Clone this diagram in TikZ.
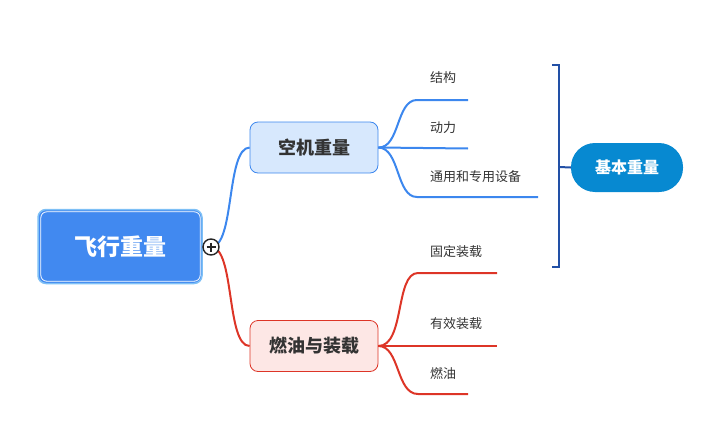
\documentclass[tikz,border=0pt]{standalone}
\usepackage{fontspec}
\usetikzlibrary{calc}
\newfontfamily\cjk{Noto Sans CJK SC}
\definecolor{rootfill}{HTML}{4189F0}
\definecolor{rootring}{HTML}{7EC0F6}
\definecolor{bl}{HTML}{3C87EE}
\definecolor{blfill}{HTML}{D7E8FD}
\definecolor{rd}{HTML}{DD3527}
\definecolor{rdfill}{HTML}{FDE7E5}
\definecolor{brk}{HTML}{2250A6}
\definecolor{pill}{HTML}{0789D1}
\definecolor{txt}{HTML}{333333}
\tikzset{
  rootbox/.style={draw=rootring, line width=1.5pt, fill=rootfill, rounded corners=8pt, minimum width=164pt, minimum height=74pt, inner sep=0pt, text=white, font=\cjk\bfseries\fontsize{23}{23}\selectfont},
  subbox/.style={rounded corners=8pt, minimum width=128pt, minimum height=51pt, inner sep=0pt, text=txt, font=\cjk\bfseries\fontsize{18}{18}\selectfont, line width=0.8pt},
  leaf/.style={anchor=west, inner sep=0pt, text=txt, font=\cjk\fontsize{13}{13}\selectfont},
  bbr/.style={draw=bl, line width=2pt},
  rbr/.style={draw=rd, line width=2pt},
}
\begin{document}
\begin{tikzpicture}[x=1pt,y=-1pt]
\useasboundingbox (0,0) rectangle (717,439);
% root
\node[rootbox] (root) at (120,246.5) {飞行重量};
\draw[white, line width=0.8pt, rounded corners=6pt] (40.8,211.8) rectangle (200.2,281.2);
% children
\node[subbox, draw=bl, fill=blfill] (kj) at (314,147.5) {空机重量};
\node[subbox, draw=rd, fill=rdfill] (ry) at (314,346) {燃油与装载};
% connectors root->children
\coordinate (rs) at (211,247);
\draw[bbr] (rs) .. controls (235,247) and (226,148) .. (kj.west);
\draw[rbr] (rs) .. controls (235,247) and (226,346) .. (ry.west);
\draw[rbr] (root.east) -- (rs);
\node[circle, draw=black!85, line width=1.4pt, fill=white, minimum size=16pt, inner sep=0pt] (plus) at (rs) {};
\draw[line width=1.4pt, black!85] ($(plus)+(-4.5,0)$) -- ($(plus)+(4.5,0)$) ($(plus)+(0,-4.5)$) -- ($(plus)+(0,4.5)$);
% blue leaves
\coordinate (b1) at (417,100); \coordinate (b1e) at (468,100);
\coordinate (b2e) at (468,148.5);
\coordinate (b3) at (417,197); \coordinate (b3e) at (538,197);
\draw[bbr] (kj.east) .. controls (400,148) and (396,100) .. (b1) -- (b1e);
\draw[bbr] (kj.east) -- (b2e);
\draw[bbr] (kj.east) .. controls (400,148) and (396,197) .. (b3) -- (b3e);
\node[leaf] (l1) at (430,78) {结构};
\node[leaf] (l2) at (430,128) {动力};
\node[leaf] (l3) at (430,177) {通用和专用设备};
% red leaves
\coordinate (r1) at (418,273); \coordinate (r1e) at (497,273);
\coordinate (r2e) at (497,346);
\coordinate (r3) at (418,394); \coordinate (r3e) at (468,394);
\draw[rbr] (ry.east) .. controls (405,346) and (395,273) .. (r1) -- (r1e);
\draw[rbr] (ry.east) -- (r2e);
\draw[rbr] (ry.east) .. controls (400,346) and (396,394) .. (r3) -- (r3e);
\node[leaf] (m1) at (430,252) {固定装载};
\node[leaf] (m2) at (430,324) {有效装载};
\node[leaf] (m3) at (430,374) {燃油};
% bracket
\coordinate (bt) at (552,64.5); \coordinate (bb) at (552,266.5);
\coordinate (bmid) at (559,167);
\draw[brk, line width=2pt] (bt) -- (559,64.5) -- (559,266.5) -- (bb);
\node[rounded corners=24pt, fill=pill, minimum width=112pt, minimum height=49pt, inner sep=0pt, text=white, font=\cjk\bfseries\fontsize{16}{16}\selectfont] (jb) at (627,167.5) {基本重量};
\draw[brk, line width=2pt] (bmid) -- (jb.west);
\end{tikzpicture}
\end{document}
